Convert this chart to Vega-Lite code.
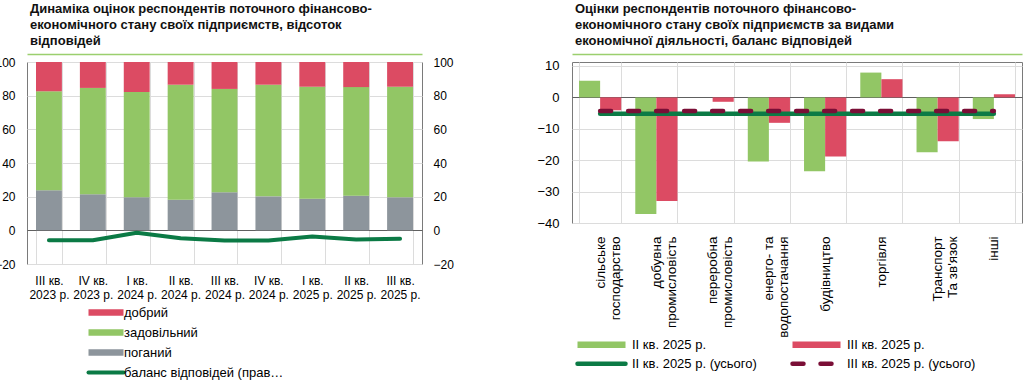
{
  "$schema": "https://vega.github.io/schema/vega-lite/v6.json",
  "padding": {"left": -6, "top": 2, "right": 0, "bottom": 0},
  "background": "white",
  "spacing": 82,
  "config": {
    "font": "Liberation Sans",
    "view": {"stroke": "#7a7a7a", "strokeWidth": 1},
    "axis": {"labelFont": "Liberation Sans", "labelColor": "#000000", "labelFontSize": 12, "ticks": false, "domain": false, "gridColor": "#dcdcdc", "gridWidth": 1, "title": null, "labelOverlap": false},
    "legend": {"labelFont": "Liberation Sans", "labelFontSize": 13, "labelColor": "#000000", "title": null},
    "title": {"font": "Liberation Sans", "fontSize": 13, "fontWeight": "bold", "color": "#111111", "anchor": "start", "frame": "group", "lineHeight": 16}
  },
  "datasets": {
    "left": [
      {"q": "III кв.\n2023 р.", "cat": "поганий", "v": 23.8}, {"q": "III кв.\n2023 р.", "cat": "задовільний", "v": 58.8}, {"q": "III кв.\n2023 р.", "cat": "добрий", "v": 17.4},
      {"q": "IV кв.\n2023 р.", "cat": "поганий", "v": 21.4}, {"q": "IV кв.\n2023 р.", "cat": "задовільний", "v": 63.2}, {"q": "IV кв.\n2023 р.", "cat": "добрий", "v": 15.4},
      {"q": "I кв.\n2024 р.", "cat": "поганий", "v": 19.6}, {"q": "I кв.\n2024 р.", "cat": "задовільний", "v": 62.6}, {"q": "I кв.\n2024 р.", "cat": "добрий", "v": 17.8},
      {"q": "II кв.\n2024 р.", "cat": "поганий", "v": 18.2}, {"q": "II кв.\n2024 р.", "cat": "задовільний", "v": 68.3}, {"q": "II кв.\n2024 р.", "cat": "добрий", "v": 13.5},
      {"q": "III кв.\n2024 р.", "cat": "поганий", "v": 22.6}, {"q": "III кв.\n2024 р.", "cat": "задовільний", "v": 61.4}, {"q": "III кв.\n2024 р.", "cat": "добрий", "v": 16.0},
      {"q": "IV кв.\n2024 р.", "cat": "поганий", "v": 20.2}, {"q": "IV кв.\n2024 р.", "cat": "задовільний", "v": 66.3}, {"q": "IV кв.\n2024 р.", "cat": "добрий", "v": 13.5},
      {"q": "I кв.\n2025 р.", "cat": "поганий", "v": 18.8}, {"q": "I кв.\n2025 р.", "cat": "задовільний", "v": 66.5}, {"q": "I кв.\n2025 р.", "cat": "добрий", "v": 14.7},
      {"q": "II кв.\n2025 р.", "cat": "поганий", "v": 20.6}, {"q": "II кв.\n2025 р.", "cat": "задовільний", "v": 64.5}, {"q": "II кв.\n2025 р.", "cat": "добрий", "v": 14.9},
      {"q": "III кв.\n2025 р.", "cat": "поганий", "v": 19.6}, {"q": "III кв.\n2025 р.", "cat": "задовільний", "v": 65.7}, {"q": "III кв.\n2025 р.", "cat": "добрий", "v": 14.7}
    ],
    "bal": [
      {"q": "III кв.\n2023 р.", "bal": -5.9}, {"q": "IV кв.\n2023 р.", "bal": -5.9}, {"q": "I кв.\n2024 р.", "bal": -1.4},
      {"q": "II кв.\n2024 р.", "bal": -4.7}, {"q": "III кв.\n2024 р.", "bal": -6.1}, {"q": "IV кв.\n2024 р.", "bal": -6.1},
      {"q": "I кв.\n2025 р.", "bal": -3.6}, {"q": "II кв.\n2025 р.", "bal": -5.5}, {"q": "III кв.\n2025 р.", "bal": -5.0}
    ],
    "right": [
      {"sector": "сільське\nгосподарство", "q": "II кв. 2025 р.", "v": 5.3}, {"sector": "сільське\nгосподарство", "q": "III кв. 2025 р.", "v": -4.1},
      {"sector": "добувна\nпромисловість", "q": "II кв. 2025 р.", "v": -37.1}, {"sector": "добувна\nпромисловість", "q": "III кв. 2025 р.", "v": -33.0},
      {"sector": "переробна\nпромисловість", "q": "II кв. 2025 р.", "v": 0.0}, {"sector": "переробна\nпромисловість", "q": "III кв. 2025 р.", "v": -1.4},
      {"sector": "енерго- та\nводопостачання", "q": "II кв. 2025 р.", "v": -20.4}, {"sector": "енерго- та\nводопостачання", "q": "III кв. 2025 р.", "v": -8.1},
      {"sector": "будівництво", "q": "II кв. 2025 р.", "v": -23.5}, {"sector": "будівництво", "q": "III кв. 2025 р.", "v": -18.8},
      {"sector": "торгівля", "q": "II кв. 2025 р.", "v": 7.9}, {"sector": "торгівля", "q": "III кв. 2025 р.", "v": 5.8},
      {"sector": "Транспорт\nТа зв'язок", "q": "II кв. 2025 р.", "v": -17.5}, {"sector": "Транспорт\nТа зв'язок", "q": "III кв. 2025 р.", "v": -14.0},
      {"sector": "інші", "q": "II кв. 2025 р.", "v": -6.9}, {"sector": "інші", "q": "III кв. 2025 р.", "v": 1.0}
    ],
    "tot": [
      {"sector": "сільське\nгосподарство", "q": "II кв. 2025 р. (усього)", "v": -5.2}, {"sector": "добувна\nпромисловість", "q": "II кв. 2025 р. (усього)", "v": -5.2},
      {"sector": "переробна\nпромисловість", "q": "II кв. 2025 р. (усього)", "v": -5.2}, {"sector": "енерго- та\nводопостачання", "q": "II кв. 2025 р. (усього)", "v": -5.2},
      {"sector": "будівництво", "q": "II кв. 2025 р. (усього)", "v": -5.2}, {"sector": "торгівля", "q": "II кв. 2025 р. (усього)", "v": -5.2},
      {"sector": "Транспорт\nТа зв'язок", "q": "II кв. 2025 р. (усього)", "v": -5.2}, {"sector": "інші", "q": "II кв. 2025 р. (усього)", "v": -5.2},
      {"sector": "сільське\nгосподарство", "q": "III кв. 2025 р. (усього)", "v": -4.3}, {"sector": "добувна\nпромисловість", "q": "III кв. 2025 р. (усього)", "v": -4.3},
      {"sector": "переробна\nпромисловість", "q": "III кв. 2025 р. (усього)", "v": -4.3}, {"sector": "енерго- та\nводопостачання", "q": "III кв. 2025 р. (усього)", "v": -4.3},
      {"sector": "будівництво", "q": "III кв. 2025 р. (усього)", "v": -4.3}, {"sector": "торгівля", "q": "III кв. 2025 р. (усього)", "v": -4.3},
      {"sector": "Транспорт\nТа зв'язок", "q": "III кв. 2025 р. (усього)", "v": -4.3}, {"sector": "інші", "q": "III кв. 2025 р. (усього)", "v": -4.3}
    ]
  },
  "hconcat": [
    {
      "width": 395,
      "height": 202,
      "title": {"text": ["Динаміка оцінок респондентів поточного  фінансово-", "економічного стану своїх підприємств, відсоток", "відповідей"], "dx": 3, "offset": 6},
      "layer": [
        {
          "data": {"name": "left"},
          "mark": {"type": "bar"},
          "encoding": {
            "x": {"field": "q", "type": "nominal", "sort": null, "scale": {"paddingInner": 0.41, "paddingOuter": 0.205},
              "axis": {"labelExpr": "split(datum.label, '\\n')", "labelAngle": 0, "labelLineHeight": 14, "labelPadding": 11, "labelFontSize": 12, "grid": true, "tickBand": "extent"}},
            "y": {"field": "v", "type": "quantitative", "stack": "zero", "scale": {"domain": [-20, 100], "nice": false},
              "axis": {"values": [-20, 0, 20, 40, 60, 80, 100], "labelPadding": 12, "labelOverlap": false, "grid": true,
                "gridColor": {"condition": {"test": "datum.value === 0", "value": "#606060"}, "value": "#dcdcdc"}}},
            "color": {"field": "cat", "type": "nominal",
              "scale": {"domain": ["добрий", "задовільний", "поганий", "баланс відповідей (права шкала)"], "range": ["#DC4B63", "#92C665", "#8D959C", "#0B7A45"]},
              "legend": {"orient": "none", "legendX": 58, "legendY": 244, "symbolType": "M-1,0H10.67", "symbolSize": 36, "symbolStrokeWidth": 6.5, "labelOffset": 26, "rowPadding": -9,
                "encode": {"symbols": {"update": {
                  "stroke": {"signal": "datum.value === 'добрий' ? '#DC4B63' : datum.value === 'задовільний' ? '#92C665' : datum.value === 'поганий' ? '#8D959C' : '#0B7A45'"},
                  "strokeWidth": {"signal": "datum.value === 'баланс відповідей (права шкала)' ? 4 : 6.5"},
                  "strokeCap": {"signal": "datum.value === 'баланс відповідей (права шкала)' ? 'round' : 'butt'"},
                  "fill": {"value": "transparent"},
                  "opacity": {"value": 1}
                }}}}},
            "order": {"field": "cat", "sort": "descending"}
          }
        },
        {
          "data": {"name": "bal"},
          "mark": {"type": "line", "strokeWidth": 4, "strokeCap": "round", "strokeJoin": "round"},
          "encoding": {
            "x": {"field": "q", "type": "nominal", "sort": null,
              "axis": {"orient": "top", "labels": false, "ticks": false, "grid": false, "domain": true, "domainColor": "#9BCF6E", "domainWidth": 1.5, "offset": 8}},
            "y": {"field": "bal", "type": "quantitative", "scale": {"domain": [-20, 100], "nice": false},
              "axis": {"orient": "right", "values": [-20, 0, 20, 40, 60, 80, 100], "labelPadding": 11, "labelOverlap": false, "grid": false}},
            "color": {"datum": "баланс відповідей (права шкала)"}
          }
        }
      ],
      "resolve": {"scale": {"y": "independent"}, "axis": {"x": "independent"}}
    },
    {
      "width": 450,
      "height": 161,
      "title": {"text": ["Оцінки респондентів поточного фінансово-", "економічного стану своїх підприємств за видами", "економічної діяльності, баланс відповідей"], "dx": 3, "offset": 6},
      "layer": [
        {
          "data": {"name": "right"},
          "mark": {"type": "bar"},
          "encoding": {
            "x": {"field": "sector", "type": "nominal", "sort": null, "scale": {"paddingInner": 0.25, "paddingOuter": 0.125},
              "axis": {"labelExpr": "split(datum.label, '\\n')", "labelAngle": 270, "labelAlign": "right", "labelBaseline": "middle", "labelLineHeight": 15, "labelPadding": 13, "labelFontSize": 13.5, "grid": true, "tickBand": "extent"}},
            "xOffset": {"field": "q", "type": "nominal", "scale": {"domain": ["II кв. 2025 р.", "III кв. 2025 р."], "paddingInner": 0}},
            "y": {"field": "v", "type": "quantitative", "scale": {"domain": [-40, 11.27], "nice": false},
              "axis": {"values": [-40, -30, -20, -10, 0, 10], "labelPadding": 13, "labelFontSize": 13, "labelOverlap": false, "grid": true,
                "gridColor": {"condition": {"test": "datum.value === 0", "value": "#606060"}, "value": "#dcdcdc"}}},
            "fill": {"field": "q", "type": "nominal",
              "scale": {"domain": ["II кв. 2025 р.", "III кв. 2025 р."], "range": ["#92C665", "#DC4B63"]},
              "legend": {"orient": "none", "legendX": 547, "legendY": 274, "columns": 2, "columnPadding": 72, "symbolType": "M-1,0H8.6", "symbolSize": 100, "symbolStrokeWidth": 6.5, "labelOffset": 41,
                "encode": {"symbols": {"update": {
                  "stroke": {"signal": "datum.value === 'II кв. 2025 р.' ? '#92C665' : '#DC4B63'"},
                  "strokeWidth": {"value": 6.5},
                  "fill": {"value": "transparent"},
                  "opacity": {"value": 1}
                }}}}}
          }
        },
        {
          "data": {"name": "tot"},
          "mark": {"type": "line", "strokeWidth": 4.5, "strokeCap": "round"},
          "encoding": {
            "x": {"field": "sector", "type": "nominal", "sort": null,
              "axis": {"orient": "top", "labels": false, "ticks": false, "grid": false, "domain": true, "domainColor": "#9BCF6E", "domainWidth": 1.5, "offset": 8}},
            "y": {"field": "v", "type": "quantitative", "scale": {"domain": [-40, 11.27], "nice": false}, "axis": null},
            "stroke": {"field": "q", "type": "nominal",
              "scale": {"domain": ["II кв. 2025 р. (усього)", "III кв. 2025 р. (усього)"], "range": ["#0B7A45", "#7A0E36"]},
              "legend": {"orient": "none", "legendX": 548, "legendY": 294, "columns": 2, "columnPadding": 26, "symbolType": "M-1,0H8.6", "symbolSize": 100, "symbolStrokeWidth": 4.5, "labelOffset": 42,
                "encode": {"symbols": {"update": {
                  "stroke": {"signal": "datum.value === 'II кв. 2025 р. (усього)' ? '#0B7A45' : '#7A0E36'"},
                  "strokeWidth": {"value": 4.5},
                  "strokeCap": {"value": "round"},
                  "strokeDash": {"signal": "datum.value === 'III кв. 2025 р. (усього)' ? [11, 17] : [1, 0]"},
                  "fill": {"value": "transparent"},
                  "opacity": {"value": 1}
                }}}}},
            "strokeDash": {"field": "q", "type": "nominal", "scale": {"domain": ["II кв. 2025 р. (усього)", "III кв. 2025 р. (усього)"], "range": [[1, 0], [11, 17]]}, "legend": null}
          }
        }
      ],
      "resolve": {"scale": {"y": "independent"}, "axis": {"x": "independent"}}
    }
  ]
}
